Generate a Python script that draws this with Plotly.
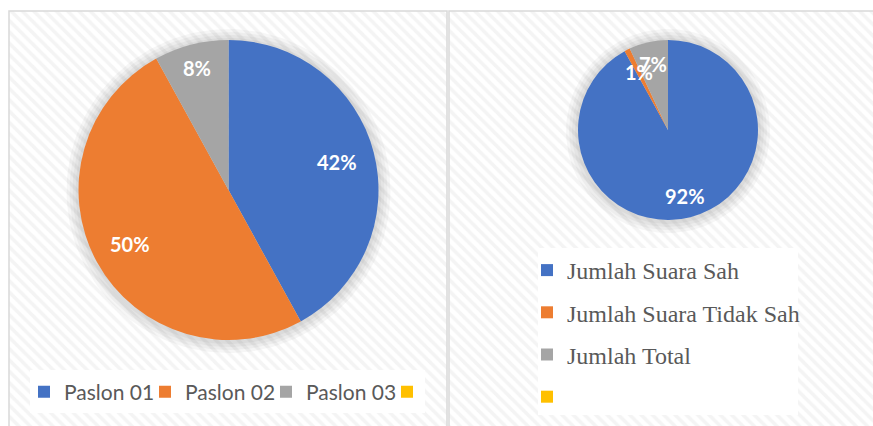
import math
import numpy as np
import plotly.graph_objects as go

W, H = 873, 426

# ---- data ----
left_labels = ["Paslon 01", "Paslon 02", "Paslon 03", " "]
left_values = [42, 50, 8, 0]
right_labels = ["Jumlah Suara Sah", "Jumlah Suara Tidak Sah", "Jumlah Total", ""]
right_values = [92, 1, 7, 0]
colors = ["#4472C4", "#ED7D31", "#A5A5A5", "#FFC000"]

# ---- styling / layout (pixels) ----
left_dom = (78, 379, 40, 340)     # x0, x1, ytop, ybot
right_dom = (578, 758, 40, 220)
left_label_r = [0.75, 0.75, 0.84, 0.75]    # radial position of data labels (fraction of radius)
right_label_r = [0.76, 0.72, 0.75, 0.75]
textfont = dict(family="Lato", size=20, color="white", weight="bold")

fig = go.Figure()

# ---- panel backgrounds (decoration) ----
panels = [(9, 447, -5, 415), (449, 880, -5, 415)]
for x0, x1, y0, y1 in panels:
    fig.add_trace(go.Scatter(
        x=[x0, x1, x1, x0, x0], y=[y0, y0, y1, y1, y0],
        mode="lines", fill="toself",
        fillpattern=dict(shape="\\", fgcolor="#eaeaea", bgcolor="#ffffff",
                         size=8, solidity=0.45),
        line=dict(color="#d9d9d9", width=1.5),
        hoverinfo="skip", showlegend=False))

# soft shadow around each pie (decoration)
def geom(dom):
    cx = (dom[0] + dom[1]) / 2
    cy = (dom[2] + dom[3]) / 2
    r = min(dom[1] - dom[0], dom[3] - dom[2]) / 2
    return cx, cy, r

t = np.linspace(0, 2 * np.pi, 181)
for dom in (left_dom, right_dom):
    cx, cy, r = geom(dom)
    for extra in (12, 9, 6, 3):
        fig.add_trace(go.Scatter(
            x=cx + (r + extra) * np.cos(t), y=(H - cy) + (r + extra) * np.sin(t) - 1,
            mode="lines", fill="toself", fillcolor="rgba(0,0,0,0.035)",
            line=dict(width=0), hoverinfo="skip", showlegend=False))

# white boxes behind the legends (decoration), in pixel units (y up)
for x0, x1, ytop, ybot in [(30, 425, 370, 413), (538, 798, 248, 415)]:
    fig.add_shape(type="rect", xref="x", yref="y", x0=x0, x1=x1, y0=H - ybot, y1=H - ytop,
                  fillcolor="white", line=dict(width=0), layer="above")

def px_dom(x0, x1, ytop, ybot):
    return dict(x=[x0 / W, x1 / W], y=[1 - ybot / H, 1 - ytop / H])

fig.add_trace(go.Pie(
    labels=left_labels, values=left_values, sort=False,
    direction="clockwise", rotation=0,
    marker=dict(colors=colors, line=dict(width=0)),
    textinfo="none",
    domain=px_dom(*left_dom),
    legend="legend", showlegend=True, hoverinfo="label+percent"))

fig.add_trace(go.Pie(
    labels=right_labels, values=right_values, sort=False,
    direction="clockwise", rotation=0,
    marker=dict(colors=colors, line=dict(width=0)),
    textinfo="none",
    domain=px_dom(*right_dom),
    showlegend=False, hoverinfo="label+percent"))

# data labels (percent) at each slice's mid-angle, like Excel's label placement
def add_labels(values, dom, radii):
    cx, cy, r = geom(dom)
    tot = sum(values)
    cum = 0
    for v, rf in zip(values, radii):
        if v > 0:
            ang = 2 * math.pi * (cum + v / 2) / tot
            lx = cx + rf * r * math.sin(ang)
            ly = cy - rf * r * math.cos(ang)
            fig.add_annotation(x=lx / W, y=1 - ly / H, xref="paper", yref="paper",
                               text=f"{round(100 * v / tot)}%", showarrow=False,
                               font=textfont, xanchor="center", yanchor="middle")
        cum += v

add_labels(left_values, left_dom, left_label_r)
add_labels(right_values, right_dom, right_label_r)

# legend proxies for the right chart (spaced like the original)
for i, (lab, c) in enumerate(zip(right_labels, colors)):
    fig.add_trace(go.Bar(x=[0], y=[None], name=lab, marker=dict(color=c, line=dict(width=0)),
                         legend="legend2", legendgroup=f"r{i}", showlegend=True,
                         hoverinfo="skip"))

fig.update_layout(
    width=W, height=H, autosize=False,
    margin=dict(l=0, r=0, t=0, b=0),
    paper_bgcolor="white", plot_bgcolor="white",
    xaxis=dict(range=[0, W], visible=False, fixedrange=True),
    yaxis=dict(range=[0, H], visible=False, fixedrange=True),
    legend=dict(orientation="h", x=24 / W, xanchor="left", y=1 - 392 / H, yanchor="middle",
                entrywidth=76, entrywidthmode="pixels",
                font=dict(family="Lato", size=21, color="#595959"),
                bgcolor="rgba(0,0,0,0)", itemclick=False, itemdoubleclick=False),
    legend2=dict(orientation="v", x=527 / W, xanchor="left", y=1 - 248 / H, yanchor="top",
                 traceorder="grouped", tracegroupgap=8,
                 font=dict(family="Liberation Serif", size=24, color="#595959"),
                 bgcolor="rgba(0,0,0,0)", itemclick=False, itemdoubleclick=False),
    showlegend=True,
)

fig.write_html("out.html", post_script="document.body.style.margin='0';",
               config={"displayModeBar": False})
